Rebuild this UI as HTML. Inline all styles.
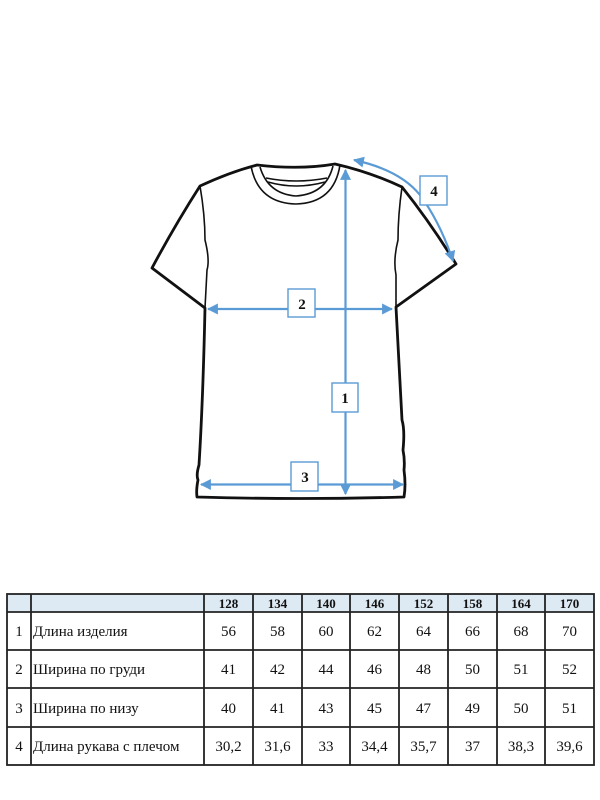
<!DOCTYPE html>
<html><head><meta charset="utf-8"><style>
html,body{margin:0;padding:0;background:#fff;}
svg{display:block;}
</style></head><body>
<svg width="600" height="800" viewBox="0 0 600 800" xmlns="http://www.w3.org/2000/svg">
<defs>
<marker id="ah" viewBox="0 0 10 10" refX="9" refY="5" markerWidth="5" markerHeight="5" orient="auto-start-reverse">
<path d="M0,0 L10,5 L0,10 z" fill="#5b9bd5"/>
</marker>
</defs>
<!-- T-shirt -->
<g fill="none" stroke="#111" stroke-width="2.8" stroke-linejoin="round" stroke-linecap="round">
<path d="M257,165 Q230,172 200,186 Q175,225 152,268 L205,308 Q203,400 199,465 Q196,475 198,480 Q196,490 197,497 Q300,500 404,497 Q406,485 404,470 Q405,460 403,450 Q405,430 402,420 Q400,380 396,307 L456,264 Q430,222 402,187 Q370,172 335,164 Q300,170 257,165 Z"/>
</g>
<g fill="none" stroke="#111" stroke-width="1.6">
<path d="M200,186 Q205,215 205,240 Q210,260 207,270 Q206,290 205,308"/>
<path d="M402,187 Q398,215 398,240 Q393,260 396,275 Q396,290 396,307"/>
<path d="M251,166 Q258,203 296,204 Q334,203 340,165"/>
<path d="M260,167 Q268,194 296,196 Q326,194 333,166"/>
<path d="M266,178 Q296,184 327,178"/>
<path d="M268,182 Q296,190 325,182"/>
</g>
<!-- arrows -->
<g stroke="#5b9bd5" stroke-width="2.2" fill="none">
<line x1="345.5" y1="170" x2="345.5" y2="494" marker-start="url(#ah)" marker-end="url(#ah)"/>
<line x1="208" y1="309" x2="392" y2="309" marker-start="url(#ah)" marker-end="url(#ah)"/>
<line x1="201" y1="484.5" x2="403" y2="484.5" marker-start="url(#ah)" marker-end="url(#ah)"/>
<path d="M354,160 Q400,170 420,195 Q440,222 453,261" marker-start="url(#ah)" marker-end="url(#ah)"/>
</g>
<g fill="#fff" stroke="#5b9bd5" stroke-width="1.4">
<rect x="332" y="383" width="26" height="29"/>
<rect x="288" y="289" width="27" height="28"/>
<rect x="291" y="462" width="27" height="29"/>
<rect x="420" y="176" width="27" height="29"/>
</g>
<g font-family="'Liberation Serif',serif" font-weight="bold" font-size="15" text-anchor="middle" fill="#111">
<text x="345" y="403">1</text>
<text x="302" y="309">2</text>
<text x="305" y="482">3</text>
<text x="434" y="196">4</text>
</g>
<!-- table -->
<rect x="7" y="594" width="587" height="18" fill="#dde9f3"/>
<g stroke="#222" stroke-width="1.8" fill="none">
<rect x="7" y="594" width="587" height="171"/>
<line x1="7" y1="612" x2="594" y2="612"/>
<line x1="7" y1="650" x2="594" y2="650"/>
<line x1="7" y1="688" x2="594" y2="688"/>
<line x1="7" y1="727" x2="594" y2="727"/>
<line x1="31" y1="594" x2="31" y2="765"/>
<line x1="204" y1="594" x2="204" y2="765"/>
<line x1="253" y1="594" x2="253" y2="765"/>
<line x1="302" y1="594" x2="302" y2="765"/>
<line x1="350" y1="594" x2="350" y2="765"/>
<line x1="399" y1="594" x2="399" y2="765"/>
<line x1="448" y1="594" x2="448" y2="765"/>
<line x1="497" y1="594" x2="497" y2="765"/>
<line x1="545" y1="594" x2="545" y2="765"/>
</g>
<g font-family="'Liberation Serif',serif" font-size="15" fill="#111" text-anchor="middle">
<g font-weight="bold" font-size="13">
<text x="228.5" y="608">128</text><text x="277.5" y="608">134</text><text x="326" y="608">140</text><text x="374.5" y="608">146</text><text x="423.5" y="608">152</text><text x="472.5" y="608">158</text><text x="521" y="608">164</text><text x="569.5" y="608">170</text>
</g>
<text x="19" y="636">1</text><text x="19" y="674">2</text><text x="19" y="713">3</text><text x="19" y="751">4</text>
<text x="228.5" y="636">56</text><text x="277.5" y="636">58</text><text x="326" y="636">60</text><text x="374.5" y="636">62</text><text x="423.5" y="636">64</text><text x="472.5" y="636">66</text><text x="521" y="636">68</text><text x="569.5" y="636">70</text>
<text x="228.5" y="674">41</text><text x="277.5" y="674">42</text><text x="326" y="674">44</text><text x="374.5" y="674">46</text><text x="423.5" y="674">48</text><text x="472.5" y="674">50</text><text x="521" y="674">51</text><text x="569.5" y="674">52</text>
<text x="228.5" y="713">40</text><text x="277.5" y="713">41</text><text x="326" y="713">43</text><text x="374.5" y="713">45</text><text x="423.5" y="713">47</text><text x="472.5" y="713">49</text><text x="521" y="713">50</text><text x="569.5" y="713">51</text>
<text x="228.5" y="751">30,2</text><text x="277.5" y="751">31,6</text><text x="326" y="751">33</text><text x="374.5" y="751">34,4</text><text x="423.5" y="751">35,7</text><text x="472.5" y="751">37</text><text x="521" y="751">38,3</text><text x="569.5" y="751">39,6</text>
<g text-anchor="start">
<text x="33" y="636">Длина изделия</text>
<text x="33" y="674">Ширина по груди</text>
<text x="33" y="713">Ширина по низу</text>
<text x="33" y="751">Длина рукава с плечом</text>
</g>
</g>
</svg>
</body></html>
